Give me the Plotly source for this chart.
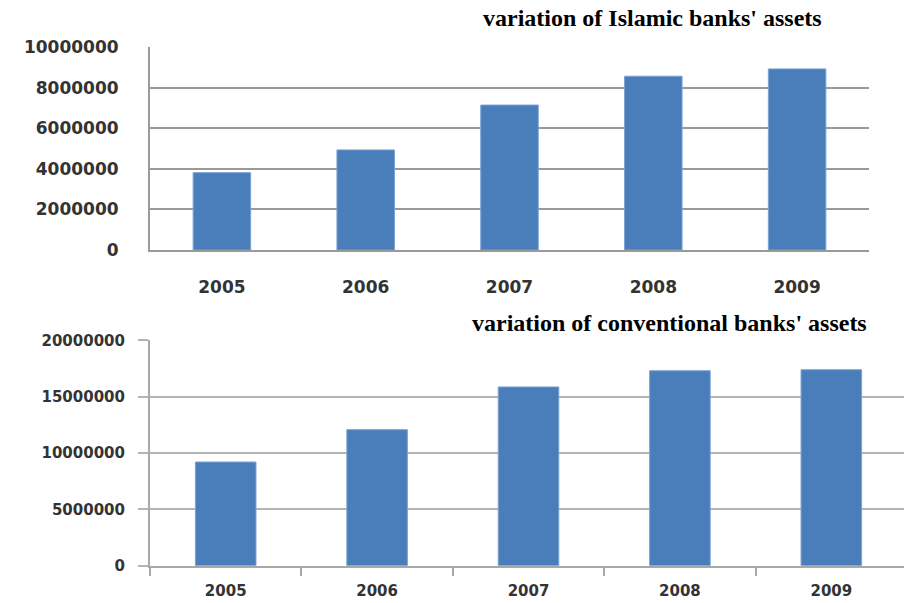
import plotly.graph_objects as go

years = ["2005", "2006", "2007", "2008", "2009"]
islamic_assets = [3810000, 4930000, 7140000, 8560000, 8920000]
conventional_assets = [9200000, 12070000, 15860000, 17300000, 17390000]
islamic_ticks = [0, 2000000, 4000000, 6000000, 8000000, 10000000]
conventional_ticks = [0, 5000000, 10000000, 15000000, 20000000]
title_islamic = "variation of Islamic banks' assets"
title_conventional = "variation of conventional banks' assets"

W, H = 904, 603
BAR = "#4a7ebb"
BAR_LINE = "#7aa3d4"

fig = go.Figure()
fig.add_trace(go.Bar(x=years, y=islamic_assets, xaxis="x", yaxis="y",
                     width=0.4, marker=dict(color=BAR, line=dict(color=BAR_LINE, width=1)),
                     showlegend=False))
fig.add_trace(go.Bar(x=years, y=conventional_assets, xaxis="x2", yaxis="y2",
                     width=0.4, marker=dict(color=BAR, line=dict(color=BAR_LINE, width=1)),
                     showlegend=False))

def py(px):
    return 1 - px / H

tick_font_top = dict(family="DejaVu Sans", size=17, color="#333333", weight="bold")
tick_font_bot = dict(family="DejaVu Sans", size=15, color="#333333", weight="bold")

fig.update_layout(
    width=W, height=H,
    margin=dict(l=0, r=0, t=0, b=0, autoexpand=False),
    paper_bgcolor="white", plot_bgcolor="white",
    bargap=0.6,
    xaxis=dict(domain=[150 / W, 869 / W], anchor="y", type="category",
               range=[-0.5, 4.5], showgrid=False, showline=True,
               linecolor="#9a9a9a", linewidth=2, ticks="", tickfont=tick_font_top,
               ticklabelstandoff=21, automargin=False),
    yaxis=dict(domain=[py(250), py(47)], anchor="x", range=[0, 10000000],
               tickvals=islamic_ticks, ticktext=[str(v) for v in islamic_ticks],
               showgrid=True, gridcolor="#9a9a9a", gridwidth=2,
               showline=True, linecolor="#9a9a9a", linewidth=2,
               zeroline=False, ticks="", tickfont=tick_font_top,
               ticklabelstandoff=26, automargin=False),
    xaxis2=dict(domain=[150 / W, 1.0], anchor="y2", type="category",
                range=[-0.5, 4.48], showgrid=False, showline=True,
                linecolor="#a8a8a8", linewidth=2, ticks="outside", ticklen=8,
                tickcolor="#a8a8a8", tickwidth=2, tickson="boundaries",
                tickfont=tick_font_bot, ticklabelstandoff=10, automargin=False),
    yaxis2=dict(domain=[py(565.7), py(340.3)], anchor="x2", range=[0, 20000000],
                tickvals=conventional_ticks, ticktext=[str(v) for v in conventional_ticks],
                showgrid=True, gridcolor="#b4b4b4", gridwidth=2,
                showline=True, linecolor="#a8a8a8", linewidth=2,
                zeroline=False, ticks="outside", ticklen=10, tickcolor="#b4b4b4",
                tickwidth=2, tickfont=tick_font_bot, ticklabelstandoff=10,
                automargin=False),
    annotations=[
        dict(text="<b>" + title_islamic + "</b>", x=652 / W, y=py(18),
             xref="paper", yref="paper", showarrow=False, xanchor="center", yanchor="middle",
             font=dict(family="Liberation Serif", size=24, color="black")),
        dict(text="<b>" + title_conventional + "</b>", x=669 / W, y=py(323),
             xref="paper", yref="paper", showarrow=False, xanchor="center", yanchor="middle",
             font=dict(family="Liberation Serif", size=24, color="black")),
    ],
)

fig.write_html("out.html")
